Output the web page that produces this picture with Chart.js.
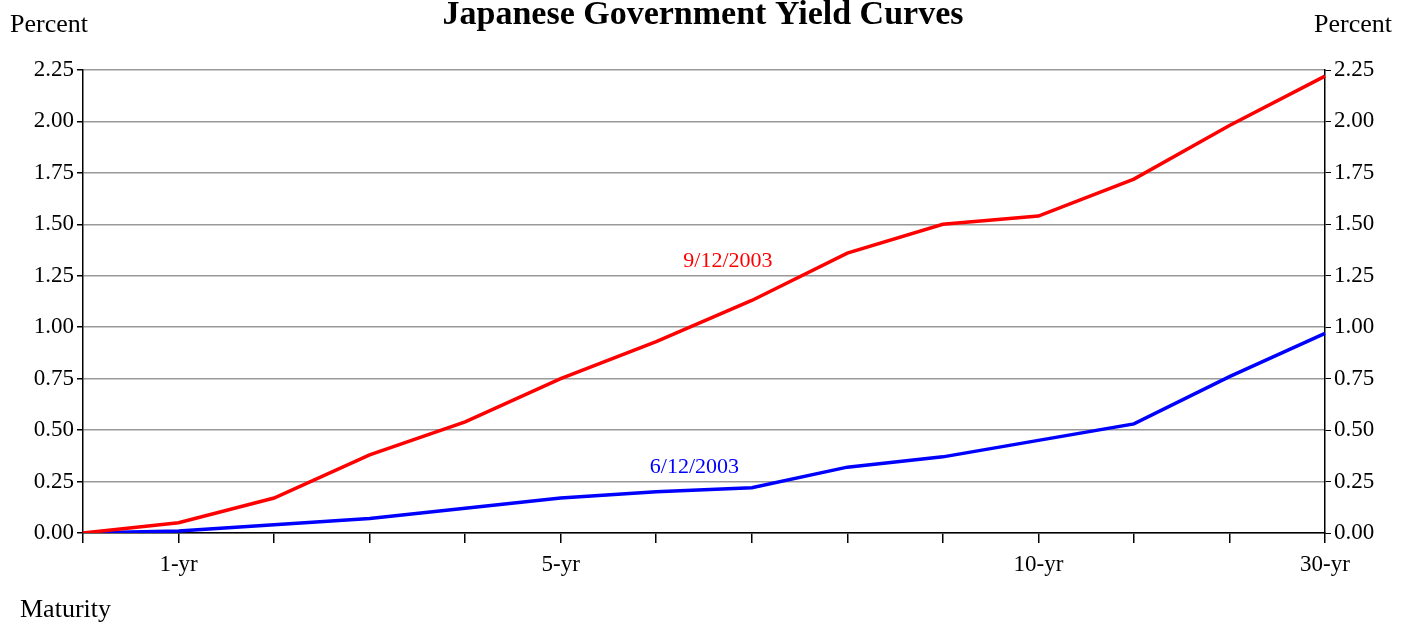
<!DOCTYPE html>
<html><head><meta charset="utf-8">
<script src="https://cdn.jsdelivr.net/npm/chart.js@4/dist/chart.umd.min.js"></script>
<style>html,body{margin:0;background:#fff}#wrap{width:1410px;height:626px}</style>
</head><body><div id="wrap"><canvas id="c"></canvas></div>
<script>
const maturities = ['', '1-yr', '', '', '', '5-yr', '', '', '', '', '10-yr', '', '', '30-yr'];
const sep2003 = [0, 0.05, 0.17, 0.38, 0.54, 0.75, 0.93, 1.13, 1.36, 1.50, 1.54, 1.72, 1.98, 2.22];
const jun2003 = [0, 0.01, 0.04, 0.07, 0.12, 0.17, 0.20, 0.22, 0.32, 0.37, 0.45, 0.53, 0.76, 0.97];
const yTicks = [0, 0.25, 0.5, 0.75, 1, 1.25, 1.5, 1.75, 2, 2.25];

const FONT = '"Liberation Serif", "Times New Roman", serif';

// extra text: title, axis headers, series labels
const textPlugin = {
  id: 'texts',
  afterDraw(chart) {
    const { ctx, scales: { x, y } } = chart;
    ctx.save();
    ctx.fillStyle = '#000';
    ctx.textBaseline = 'middle';
    ctx.font = 'bold 34px ' + FONT;
    ctx.textAlign = 'center';
    ctx.fillText('Japanese Government Yield Curves', 703, 15);
    ctx.font = '26px ' + FONT;
    ctx.textAlign = 'left';
    ctx.fillText('Percent', 10, 25);
    ctx.fillText('Maturity', 20, 610);
    ctx.textAlign = 'right';
    ctx.fillText('Percent', 1392, 25);
    ctx.font = '22px ' + FONT;
    ctx.textAlign = 'center';
    ctx.fillStyle = '#ff0000';
    ctx.fillText('9/12/2003', x.getPixelForValue(6.75), y.getPixelForValue(1.32));
    ctx.fillStyle = '#0000ff';
    ctx.fillText('6/12/2003', x.getPixelForValue(6.4), y.getPixelForValue(0.32));
    ctx.restore();
  }
};

const yTickOpts = {
  font: { family: FONT, size: 23 }, color: '#000', padding: 3,
  callback: v => v.toFixed(2)
};

new Chart(document.getElementById('c'), {
  type: 'line',
  data: {
    labels: maturities,
    datasets: [
      { label: '9/12/2003', data: sep2003, borderColor: '#ff0000', borderWidth: 3.5, pointRadius: 0, tension: 0 },
      { label: '6/12/2003', data: jun2003, borderColor: '#0000ff', borderWidth: 3.5, pointRadius: 0, tension: 0 }
    ]
  },
  plugins: [textPlugin],
  options: {
    responsive: true, maintainAspectRatio: false, animation: false,
    layout: { padding: { top: 70, bottom: 0, left: 0, right: 0 } },
    plugins: { legend: { display: false }, tooltip: { enabled: false } },
    scales: {
      x: {
        offset: false,
        grid: { drawOnChartArea: false, tickLength: 10, color: '#000', lineWidth: 1.5 },
        border: { color: '#000', width: 1.5 },
        ticks: { autoSkip: false, maxRotation: 0, font: { family: FONT, size: 23 }, color: '#000', padding: 8 },
        afterFit: s => { s.height = 93; }
      },
      y: {
        position: 'left', min: 0, max: 2.25,
        afterBuildTicks: s => { s.ticks = yTicks.map(v => ({ value: v })); },
        grid: { color: '#999', lineWidth: 1.5, tickColor: '#000', tickLength: 6 },
        border: { color: '#000', width: 1.5 },
        ticks: yTickOpts,
        afterFit: s => { s.width = 83; }
      },
      y2: {
        position: 'right', min: 0, max: 2.25,
        afterBuildTicks: s => { s.ticks = yTicks.map(v => ({ value: v })); },
        grid: { drawOnChartArea: false, color: '#000', tickLength: 6 },
        border: { color: '#000', width: 1.5 },
        ticks: yTickOpts,
        afterFit: s => { s.width = 85; }
      }
    }
  }
});
</script>
</body></html>
